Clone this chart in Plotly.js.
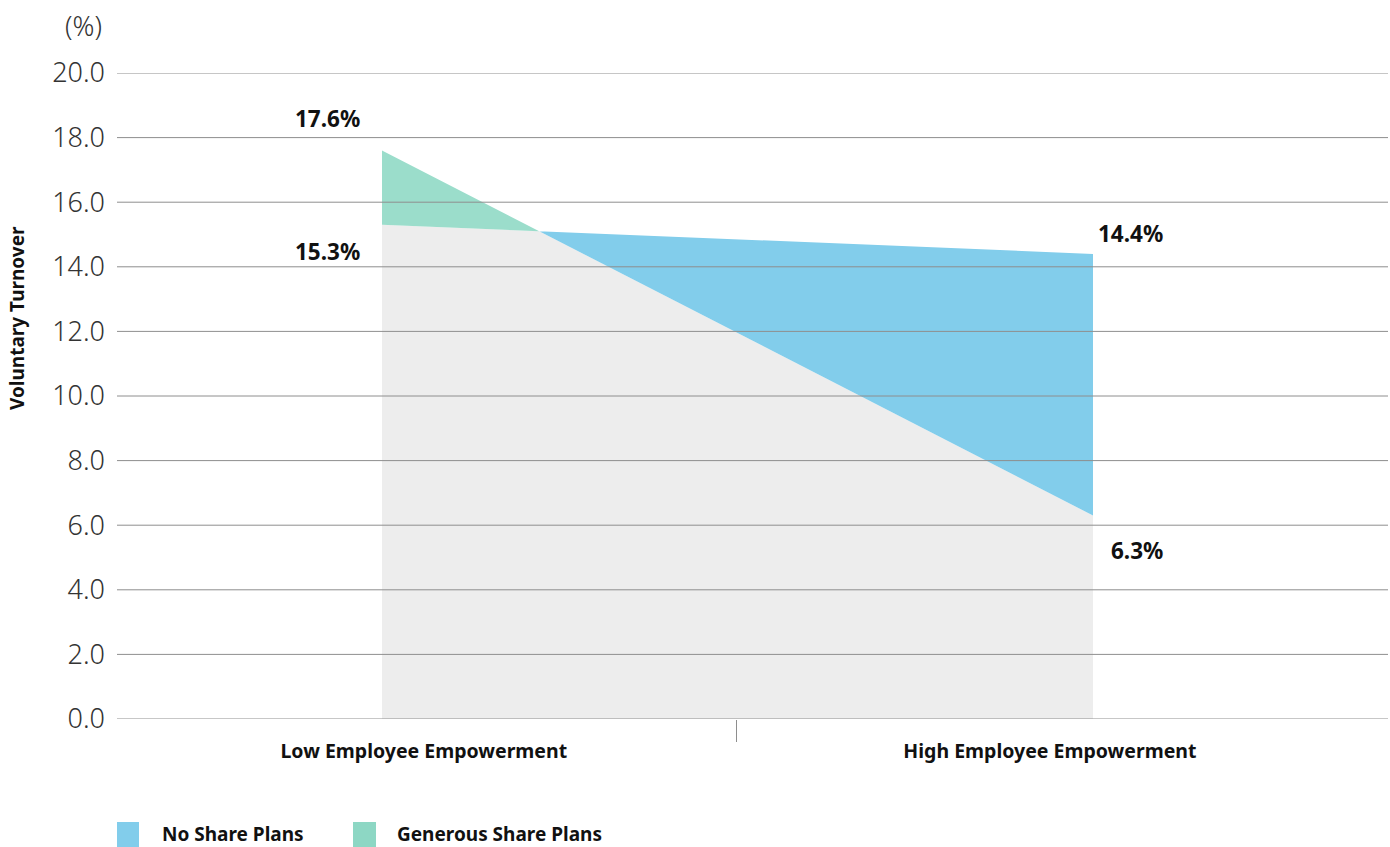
<!DOCTYPE html>
<html>
<head>
<meta charset="utf-8">
<script src="https://cdn.plot.ly/plotly-3.0.1.min.js"></script>
<style>html,body{margin:0;padding:0;background:#fff;}#chart{width:1390px;height:847px;}</style>
</head>
<body>
<div id="chart"></div>
<script>
// ---- data ----
const categories = ["Low Employee Empowerment", "High Employee Empowerment"];
const noSharePlans = [15.3, 14.4];
const generousSharePlans = [17.6, 6.3];
const seriesNames = ["No Share Plans", "Generous Share Plans"];
const yTickVals = [0, 2, 4, 6, 8, 10, 12, 14, 16, 18, 20];
const yUnitLabel = "(%)";
const yTitle = "Voluntary Turnover";

// ---- derived geometry (crossing of the two series) ----
const d0 = generousSharePlans[0] - noSharePlans[0];
const d1 = generousSharePlans[1] - noSharePlans[1];
const tx = d0 / (d0 - d1);
const ty = noSharePlans[0] + (noSharePlans[1] - noSharePlans[0]) * tx;
const xs = [0, tx, 1];
const minY = [Math.min(noSharePlans[0], generousSharePlans[0]), ty, Math.min(noSharePlans[1], generousSharePlans[1])];
const nsY = [noSharePlans[0], ty, noSharePlans[1]];
const gsY = [generousSharePlans[0], ty, generousSharePlans[1]];

const W = 1390, H = 847, L = 117, R = 2, T = 73, B = 128;
const pw = W - L - R, ph = H - T - B;
const px = v => (v - L) / pw;
const py = v => (H - B - v) / ph;

const BLUE = "#82cdeb", GREEN = "#9bddcb", GREY = "#ededed", GRID = "#8e8e8e";
const LIGHT = {family: "Noto Sans, Lato, sans-serif", size: 27, color: "#333", weight: 300};
const BOLD = "Noto Sans, Lato, sans-serif";

const traces = [
  {x: xs, y: minY, xaxis: "x2", type: "scatter", mode: "lines", line: {width: 0}, fill: "tozeroy", fillcolor: GREY, hoverinfo: "skip", showlegend: false},
  {x: xs, y: nsY, xaxis: "x2", type: "scatter", mode: "lines", line: {width: 0}, fill: "tonexty", fillcolor: BLUE, name: seriesNames[0], showlegend: false},
  {x: xs, y: minY, xaxis: "x2", type: "scatter", mode: "lines", line: {width: 0}, hoverinfo: "skip", showlegend: false},
  {x: xs, y: gsY, xaxis: "x2", type: "scatter", mode: "lines", line: {width: 0}, fill: "tonexty", fillcolor: GREEN, name: seriesNames[1], showlegend: false},
  {x: [0, 1], y: [null, null], xaxis: "x", type: "scatter", mode: "markers", showlegend: false, hoverinfo: "skip"}
];

const shapes = yTickVals.map(v => ({type: "line", xref: "paper", yref: "y", x0: 0, x1: 1, y0: v, y1: v, layer: "above", line: {color: GRID, width: 1}}));
// legend squares
shapes.push({type: "rect", xref: "paper", yref: "paper", x0: px(117), x1: px(139), y0: py(822), y1: py(852), fillcolor: BLUE, line: {width: 0}});
shapes.push({type: "rect", xref: "paper", yref: "paper", x0: px(353), x1: px(376), y0: py(822), y1: py(852), fillcolor: "#8dd7c4", line: {width: 0}});

const valFont = {family: BOLD, size: 22.5, color: "#111", weight: 700};
const annotations = [
  {xref: "x2", yref: "y", x: 0, y: generousSharePlans[0], text: generousSharePlans[0].toFixed(1) + "%", showarrow: false, xanchor: "right", yanchor: "bottom", xshift: -20, yshift: 15, font: valFont},
  {xref: "x2", yref: "y", x: 0, y: noSharePlans[0], text: noSharePlans[0].toFixed(1) + "%", showarrow: false, xanchor: "right", yanchor: "top", xshift: -20, yshift: -9, font: valFont},
  {xref: "x2", yref: "y", x: 1, y: noSharePlans[1], text: noSharePlans[1].toFixed(1) + "%", showarrow: false, xanchor: "right", yanchor: "bottom", xshift: 72, yshift: 3, font: valFont},
  {xref: "x2", yref: "y", x: 1, y: generousSharePlans[1], text: generousSharePlans[1].toFixed(1) + "%", showarrow: false, xanchor: "right", yanchor: "top", xshift: 72, yshift: -17, font: valFont},
  {xref: "paper", yref: "paper", x: px(104), y: py(25), text: yUnitLabel, showarrow: false, xanchor: "right", yanchor: "middle", font: LIGHT},
  {xref: "paper", yref: "paper", x: px(17), y: py(318), text: yTitle, showarrow: false, textangle: -90, xanchor: "center", yanchor: "middle", font: {family: BOLD, size: 19, color: "#111", weight: 700}},
  {xref: "paper", yref: "paper", x: px(160), y: py(834), text: seriesNames[0], showarrow: false, xanchor: "left", yanchor: "middle", font: {family: BOLD, size: 19, color: "#111", weight: 700}},
  {xref: "paper", yref: "paper", x: px(395), y: py(834), text: seriesNames[1], showarrow: false, xanchor: "left", yanchor: "middle", font: {family: BOLD, size: 19, color: "#111", weight: 700}}
];

const layout = {
  width: W, height: H,
  margin: {l: L, r: R, t: T, b: B, pad: 0},
  paper_bgcolor: "#fff", plot_bgcolor: "#fff",
  showlegend: false,
  xaxis: {
    type: "linear", range: [-0.49, 1.54], tickmode: "array", tickvals: [0, 1], ticktext: categories,
    ticks: "", showgrid: false, zeroline: false, showline: false,
    tickfont: {family: BOLD, size: 19.5, color: "#111", weight: 700}, ticklabelstandoff: 18,
    minor: {tickmode: "array", tickvals: [0.5], ticks: "outside", ticklen: 22, tickcolor: GRID, tickwidth: 1, showgrid: false},
    fixedrange: true
  },
  xaxis2: {overlaying: "x", type: "linear", range: [-(382 - L) / 711, 1 + (W - R - 1093) / 711], visible: false, fixedrange: true},
  yaxis: {
    range: [0, 20], tickmode: "array", tickvals: yTickVals, ticktext: yTickVals.map(v => v.toFixed(1)),
    showgrid: false, zeroline: false, showline: false, ticks: "",
    tickfont: LIGHT, ticklabelstandoff: 11, fixedrange: true
  },
  shapes: shapes,
  annotations: annotations
};

Plotly.newPlot("chart", traces, layout, {displayModeBar: false, staticPlot: true});
</script>
</body>
</html>
